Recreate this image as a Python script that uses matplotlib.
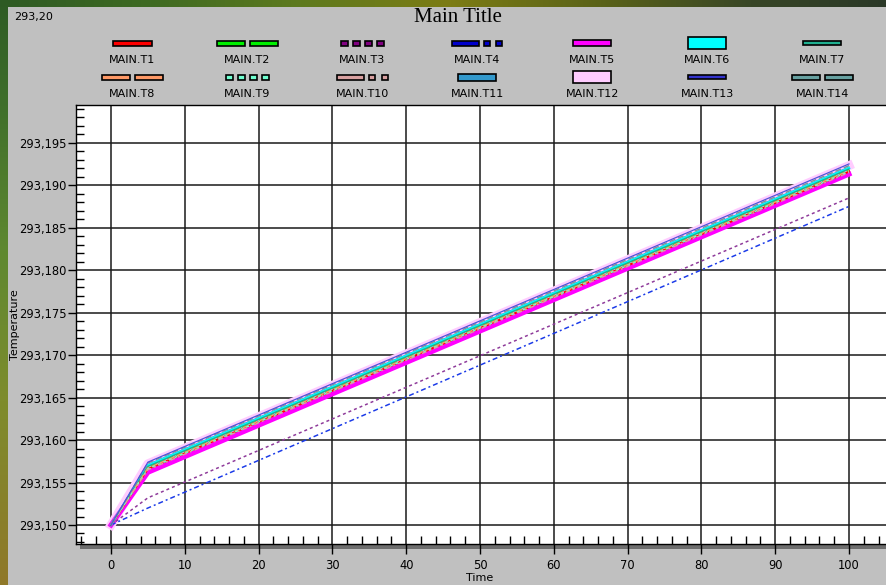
import numpy as np
import matplotlib
matplotlib.use('Agg')
import matplotlib.pyplot as plt
from matplotlib.patches import Rectangle
from matplotlib.colors import to_rgb
from matplotlib.ticker import MultipleLocator, FuncFormatter

plt.rcParams['font.family'] = ['DejaVu Sans']
plt.rcParams['lines.scale_dashes'] = False

W, H = 887, 585
PT = 0.72  # points per pixel at 100 dpi

# ---------------- data ----------------
time = [0, 5, 100]
MAIN_T1 = [293.1500, 293.1566, 293.1916]
MAIN_T2 = [293.1500, 293.1568, 293.1918]
MAIN_T3 = [293.1500, 293.1532, 293.1885]
MAIN_T4 = [293.1500, 293.1520, 293.1875]
MAIN_T5 = [293.1500, 293.1562, 293.1913]
MAIN_T6 = [293.1500, 293.1570, 293.1920]
MAIN_T7 = [293.1500, 293.1569, 293.1919]
MAIN_T8 = [293.1500, 293.1567, 293.1917]
MAIN_T9 = [293.1500, 293.1566, 293.1916]
MAIN_T10 = [293.1500, 293.1565, 293.1915]
MAIN_T11 = [293.1500, 293.1571, 293.1921]
MAIN_T12 = [293.1500, 293.1572, 293.1923]
MAIN_T13 = [293.1500, 293.1574, 293.1925]
MAIN_T14 = [293.1500, 293.1573, 293.1923]

series_names = ['MAIN.T1', 'MAIN.T2', 'MAIN.T3', 'MAIN.T4', 'MAIN.T5', 'MAIN.T6', 'MAIN.T7',
                'MAIN.T8', 'MAIN.T9', 'MAIN.T10', 'MAIN.T11', 'MAIN.T12', 'MAIN.T13', 'MAIN.T14']
series_values = [MAIN_T1, MAIN_T2, MAIN_T3, MAIN_T4, MAIN_T5, MAIN_T6, MAIN_T7,
                 MAIN_T8, MAIN_T9, MAIN_T10, MAIN_T11, MAIN_T12, MAIN_T13, MAIN_T14]
series_colors = ['#FF0000', '#00F000', '#800080', '#0000CC', '#FF00FF', '#00FFFF', '#20B090',
                 '#FF9966', '#70FFD0', '#D8A0A0', '#3399CC', '#FFCCFF', '#3333CC', '#66A0A0']
series_styles = ['solid', 'dashed', 'dotted', 'dashdotdot', 'solid', 'solid', 'solid',
                 'dashed', 'dotted', 'dashdotdot', 'solid', 'solid', 'solid', 'dashed']

x_ticks_major = 10
y_ticks_major = 0.005

# ---------------- styles ----------------
line_px = [2, 1.5, 1.5, 1.5, 5, 2.5, 1.5, 1.5, 1.5, 1.5, 1.5, 9, 1.2, 1.5]
plot_colors = ['#FF0000', '#00F000', '#8E3A9A', '#1A3AE8', '#FF00FF', '#00FFFF', '#20B090',
               '#FF9966', '#70FFD0', '#D8A0A0', '#3399CC', '#FFCCFF', '#5050D8', '#7A9A9A']
legend_h = [5, 5, 5, 5, 6, 12, 4, 5, 5, 5, 7, 12, 4, 5]
zorders = [5, 5, 5, 5, 2, 4, 5, 5, 5, 5, 3, 1, 6, 5]
plot_dash = {'solid': None,
             'dashed': (6 * PT, 3 * PT),
             'dotted': (3 * PT, 3 * PT),
             'dashdotdot': (5 * PT, 3 * PT, 2 * PT, 3 * PT)}
legend_segs = {'solid': [(0, 38)],
               'dashed': [(0, 28), (33, 28)],
               'dotted': [(0, 7), (12, 7), (24, 7), (36, 7)],
               'dashdotdot': [(0, 27), (32, 6), (44, 6)]}

fig = plt.figure(figsize=(W / 100, H / 100), dpi=100)

# background gradient border
tx = [0, 150, 300, 450, 600, 750, 887]
tc = ['#2E5A24', '#3E6A22', '#5E7A1E', '#7C7C14', '#5A6218', '#384626', '#2A3828']
ly = [0, 100, 250, 400, 585]
lc = ['#2E5A24', '#3E6E2A', '#5E8830', '#7E8C2C', '#907828']
tcr = np.array([to_rgb(c) for c in tc])
lcr = np.array([to_rgb(c) for c in lc])
xs = np.arange(W)
ys = np.arange(H)
top = np.stack([np.interp(xs, tx, tcr[:, k]) for k in range(3)], axis=-1)
left = np.stack([np.interp(ys, ly, lcr[:, k]) for k in range(3)], axis=-1)
img = np.where((ys[:, None, None] < 7), top[None, :, :], left[:, None, :])
fig.figimage(img, 0, 0, origin='upper', zorder=-10)


def fx(x):
    return x / W


def fy(y):
    return 1 - y / H


fig.add_artist(Rectangle((fx(8), 0), 1, fy(7), transform=fig.transFigure,
                         facecolor='#C0C0C0', edgecolor='none', zorder=-5))
# bottom shadow of the plot frame
fig.add_artist(Rectangle((fx(80), fy(549)), 1, 5 / H, transform=fig.transFigure,
                         facecolor='#6E6E6E', edgecolor='none', zorder=-1))

# axes: left 76px, top 105px, bottom 544px, extends past right edge
ax = fig.add_axes([fx(76), fy(544), 824 / W, 439 / H])
ax.set_facecolor('white')
px_per_x = 7.38
ax.set_xlim(-(111 - 76) / px_per_x, -(111 - 76) / px_per_x + 824 / px_per_x)
px_per_y = 8.496 / 0.001
ax.set_ylim(293.150 - (544 - 525) / px_per_y, 293.150 + (525 - 105) / px_per_y)

for vals, col, st, lw, z in zip(series_values, plot_colors, series_styles, line_px, zorders):
    ln, = ax.plot(time, vals, color=col, lw=lw * PT, zorder=z, solid_joinstyle='round')
    if plot_dash[st] is not None:
        ln.set_dashes(plot_dash[st])

ax.xaxis.set_major_locator(MultipleLocator(x_ticks_major))
ax.xaxis.set_minor_locator(MultipleLocator(2))
ax.yaxis.set_major_locator(MultipleLocator(y_ticks_major))
ax.yaxis.set_minor_locator(MultipleLocator(0.001))
ax.yaxis.set_major_formatter(FuncFormatter(lambda v, p: f"{v:.3f}".replace('.', ',')))
ax.xaxis.set_major_formatter(FuncFormatter(lambda v, p: f"{v:.0f}"))
ax.grid(True, which='major', color='#1a1a1a', lw=1.1, zorder=0)
ax.set_axisbelow(True)
ax.tick_params(which='major', direction='out', length=6, width=1, labelsize=8.3,
               colors='black', pad=0.8)
ax.tick_params(axis='x', which='major', length=7, pad=4)
ax.tick_params(which='minor', direction='in', length=6, width=1)
ax.tick_params(top=False, right=False, which='both')
for s in ['top', 'left', 'bottom']:
    ax.spines[s].set_color('black')
    ax.spines[s].set_linewidth(1)
ax.spines['right'].set_visible(False)

# legend (samples above labels, 7 columns x 2 rows)
for i, (name, col, st, h) in enumerate(zip(series_names, series_colors, series_styles, legend_h)):
    row, c = divmod(i, 7)
    cx = 132.5 + c * 115
    sy = 43 + row * 34
    segs = legend_segs[st]
    total = segs[-1][0] + segs[-1][1]
    x0 = cx - total / 2
    for (off, ln_) in segs:
        fig.add_artist(Rectangle((fx(x0 + off), fy(sy + h / 2)), ln_ / W, h / H,
                                 transform=fig.transFigure, facecolor=col,
                                 edgecolor='black', lw=1.2, zorder=3))
    fig.text(fx(cx), fy(60 + row * 34), name, ha='center', va='center', fontsize=8)

fig.text(fx(458), fy(18), 'Main Title', ha='center', va='center', fontsize=15,
         family='Liberation Serif')
fig.text(fx(14), fy(17), '293,20', ha='left', va='center', fontsize=8)
fig.text(fx(480), fy(578), 'Time', ha='center', va='center', fontsize=8)
fig.text(fx(15), fy(325), 'Temperature', ha='center', va='center', fontsize=8, rotation=90)

fig.savefig('out.png', dpi=100)
